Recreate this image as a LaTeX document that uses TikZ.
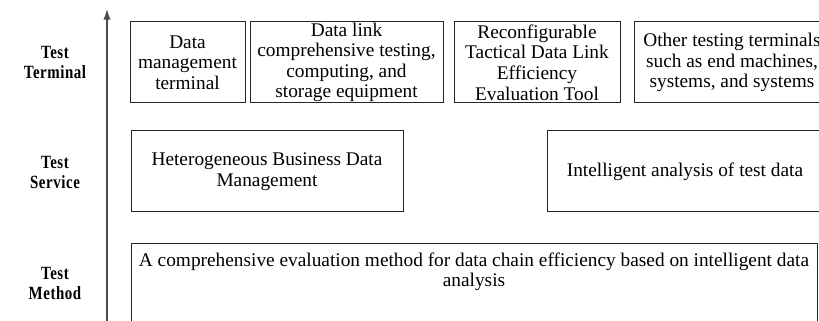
\documentclass[tikz,border=0pt]{standalone}
\usepackage{fontspec}
\setmainfont{Liberation Serif}
\newfontfamily\lblfont[FakeStretch=0.8,LetterSpace=3]{Liberation Serif Bold}
\usetikzlibrary{arrows.meta}
\begin{document}
\begin{tikzpicture}[x=0.75pt,y=0.75pt,yscale=-1,xscale=1,
  box/.style={draw=black!85, line width=0.75pt, inner sep=0pt, align=center,
    font=\fontsize{14.5}{15.4}\selectfont},
  layer/.style={inner sep=0.75pt, align=center, font=\lblfont\fontsize{14}{15}\selectfont}]
\clip (0,0) rectangle (819,321);
% Axis
\coordinate (axbot) at (107,325);
\coordinate (axtop) at (107,9);
\draw [black!70, line width=1.1pt, -{Latex[length=8pt,width=5.5pt]}] (axbot) -- (axtop);
% Layer labels
\node (lterm) [layer] at (55,62) {Test\\Terminal};
\node (lserv) [layer] at (55,172) {Test\\Service};
\node (lmeth) [layer] at (55,283) {Test\\Method};
%Shape: Rectangle -- terminals
\node (dmt) [box, minimum width=86.25pt, minimum height=60.75pt] at (187.5,62.5) {Data\\management\\terminal};
\node (dlc) [box, minimum width=144.75pt, minimum height=60.75pt] at (346.5,62.5) {Data link\\comprehensive testing,\\computing, and\\storage equipment};
\node (rtd) [box, minimum width=124.5pt, minimum height=60.75pt] at (537,62.5) {Reconfigurable\\Tactical Data Link\\Efficiency\\Evaluation Tool};
\node (oth) [box, minimum width=147pt, minimum height=60.75pt] at (732,62.5) {Other testing terminals\\such as end machines,\\systems, and systems};
%Shape: Rectangle -- services
\node (hbd) [box, minimum width=204pt, minimum height=60.75pt] at (267,171.5) {Heterogeneous Business Data\\Management};
\node (iat) [box, minimum width=207pt, minimum height=60.75pt] at (685,171.5) {Intelligent analysis of test data};
%Shape: Rectangle -- method
\node (meth) [box, minimum width=514.5pt, minimum height=72pt, anchor=north west] at (131,243) {};
% Text Node
\node (methtxt) [box, draw=none] at (474,272) {A comprehensive evaluation method for data chain efficiency based on intelligent data\\analysis};
\end{tikzpicture}
\end{document}
